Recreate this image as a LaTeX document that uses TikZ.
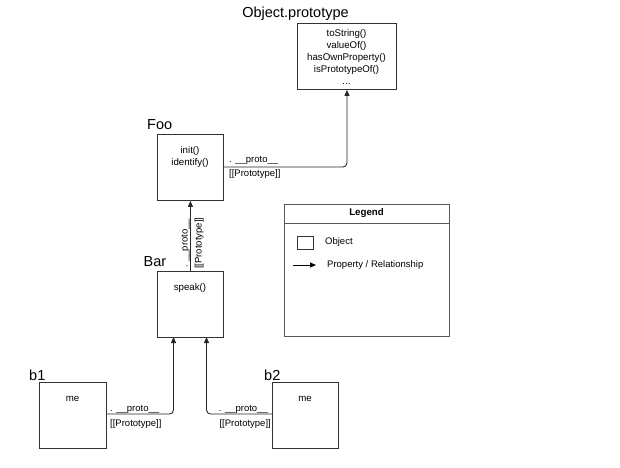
\documentclass[tikz,border=0pt]{standalone}
\usepackage{fontspec}
\setmainfont{Liberation Sans}
\usetikzlibrary{arrows.meta}
\begin{document}
\begin{tikzpicture}[x=1pt,y=-1pt,
  objbox/.style={draw=black!80,line width=0.9pt,minimum width=66pt,minimum height=66pt,inner sep=0pt,anchor=north west},
  content/.style={font=\fontsize{9.7}{12}\selectfont,align=center,inner sep=0pt,anchor=base},
  title/.style={font=\fontsize{14.5}{16}\selectfont,inner sep=0pt,anchor=base west},
  lbl/.style={font=\fontsize{9.5}{11}\selectfont,inner sep=0pt,anchor=base west},
  link/.style={draw=black!85,line width=0.9pt,rounded corners=4pt,-{Triangle[length=6pt,width=5pt]}}
]
\useasboundingbox (0,0) rectangle (620,467);
% Object.prototype
\node[objbox,minimum width=99pt] (obj) at (297,23) {};
\node[title,anchor=base] (objt) at (295.5,17) {Object.prototype};
\node[content] (objc) at (346.5,84.5) {toString()\\valueOf()\\hasOwnProperty()\\isPrototypeOf()\\...};
% Foo
\node[objbox] (foo) at (157,134) {};
\node[title] (foot) at (147,129) {Foo};
\node[content] (fooc) at (190,165) {init()\\identify()};
% Bar
\node[objbox] (bar) at (157,271) {};
\node[title] (bart) at (143.5,266.5) {Bar};
\node[content] (barc) at (190,290.5) {speak()};
% b1
\node[objbox,minimum width=67pt] (b1) at (39,382) {};
\node[title] (b1t) at (29,380) {b1};
\node[content] (b1c) at (72.5,401) {me};
% b2
\node[objbox] (b2) at (272,382) {};
\node[title] (b2t) at (264,380) {b2};
\node[content] (b2c) at (305,401) {me};
% connectors
\coordinate (fooR) at (223,167);
\coordinate (b1R) at (106,414);
\coordinate (b2L) at (272,414);
\draw[link] (fooR) -| (obj.south);
\draw[link] (bar.north) -- (foo.south);
\draw[link] (b1R) -| (173.5,337) coordinate (bar1);
\draw[link] (b2L) -| (206.5,337) coordinate (bar2);
% labels
\node[lbl] (l1) at (229,162) {. \_\_proto\_\_};
\node[lbl] (l2) at (229,176) {[[Prototype]]};
\node[lbl,rotate=90] (l3) at (187.5,268) {. \_\_proto\_\_};
\node[lbl,rotate=90] (l4) at (201.5,269) {[[Prototype]]};
\node[lbl] (l5) at (110,411) {. \_\_proto\_\_};
\node[lbl] (l6) at (110,426) {[[Prototype]]};
\node[lbl,anchor=base east] (l7) at (268,411) {. \_\_proto\_\_};
\node[lbl,anchor=base east] (l8) at (271,426) {[[Prototype]]};
% legend
\draw[draw=black!65,line width=0.9pt] (284,204) rectangle (449,336);
\draw[draw=black!65,line width=0.9pt] (284,223) -- (449,223);
\node[font=\fontsize{9.7}{11}\selectfont\bfseries,inner sep=0pt] (leg) at (366.5,213.5) {Legend};
\node[draw=black!80,line width=0.8pt,minimum width=16pt,minimum height=13pt,inner sep=0pt] (legbox) at (305,242.5) {};
\node[lbl,anchor=west] (legobj) at (325,242.5) {Object};
\coordinate (la) at (293,265);
\coordinate (lb) at (316,265);
\draw[line width=0.9pt,-{Triangle[length=6pt,width=5pt]}] (la) -- (lb);
\node[lbl,anchor=west] (legrel) at (327,265.5) {Property / Relationship};
\end{tikzpicture}
\end{document}
